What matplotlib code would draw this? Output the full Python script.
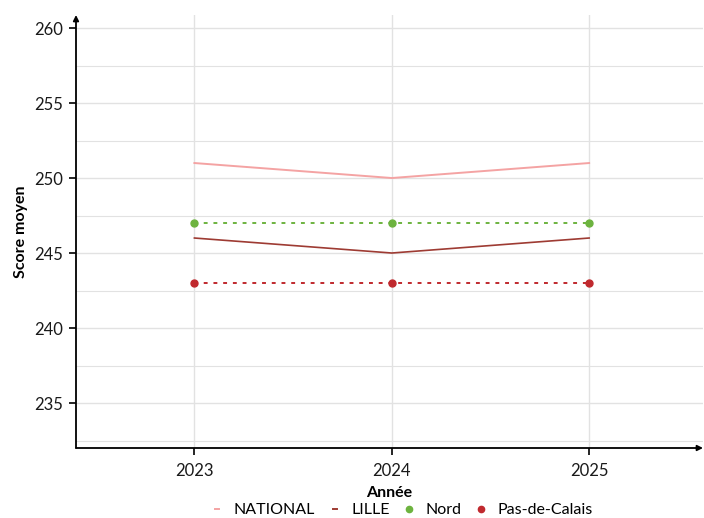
import matplotlib.pyplot as plt
from matplotlib.lines import Line2D

years = [2023, 2024, 2025]
national = [251, 250, 251]
lille = [246, 245, 246]
nord = [247, 247, 247]
pas_de_calais = [243, 243, 243]

plt.rcParams['font.family'] = ['Lato', 'DejaVu Sans']

fig = plt.figure(figsize=(7.04, 5.18), dpi=100)
ax = fig.add_axes([76 / 704, 1 - 448 / 518, (703 - 76) / 704, (448 - 15) / 518])

ax.plot(years, national, color='#F4A3A3', lw=1.4)
ax.plot(years, lille, color='#9E3B33', lw=1.2)
ax.plot(years, nord, color='#6DB33F', lw=1.4, ls=(0, (2, 3)))
ax.plot(years, nord, 'o', color='#6DB33F', ms=5)
ax.plot(years, pas_de_calais, color='#C0292E', lw=1.4, ls=(0, (2, 3)))
ax.plot(years, pas_de_calais, 'o', color='#C0292E', ms=5)

ax.set_xlim(2022.4, 2025.577)
ax.set_ylim(232, 260.87)
ax.set_xticks(years)
ax.set_xticklabels([str(y) for y in years])
ax.set_yticks([235, 240, 245, 250, 255, 260])
ax.set_yticks([232.5, 237.5, 242.5, 247.5, 252.5, 257.5], minor=True)
ax.tick_params(axis='y', which='minor', length=0)
ax.tick_params(which='major', length=5, width=1.2, color='black', labelsize=12,
               labelcolor='#1a1a1a', pad=4)
ax.tick_params(axis='x', pad=6)
ax.grid(True, which='major', color='#E2E2E2', lw=1)
ax.grid(True, which='minor', axis='y', color='#E2E2E2', lw=0.8)
ax.set_axisbelow(True)

for s in ax.spines.values():
    s.set_visible(False)
ax.annotate('', xy=(0, 1), xytext=(0, 0), xycoords='axes fraction',
            arrowprops=dict(arrowstyle='-|>', color='black', lw=1.3, mutation_scale=8,
                            shrinkA=0, shrinkB=0))
ax.annotate('', xy=(1, 0), xytext=(0, 0), xycoords='axes fraction',
            arrowprops=dict(arrowstyle='-|>', color='black', lw=1.3, mutation_scale=8,
                            shrinkA=0, shrinkB=0))

ax.set_xlabel('Année', fontsize=11.5, fontweight='bold', labelpad=5)
ax.set_ylabel('Score moyen', fontsize=11.5, fontweight='bold', labelpad=5)

handles = [
    Line2D([], [], color='#F4A3A3', lw=1.4),
    Line2D([], [], color='#9E3B33', lw=1.4),
    Line2D([], [], color='#6DB33F', marker='o', ls='none', ms=4.5),
    Line2D([], [], color='#C0292E', marker='o', ls='none', ms=4.5),
]
fig.legend(handles, ['NATIONAL', 'LILLE', 'Nord', 'Pas-de-Calais'], loc='center',
           bbox_to_anchor=(404 / 704, 1 - 510 / 518), ncol=4, frameon=False,
           fontsize=11.5, handlelength=0.25, handletextpad=0.9, columnspacing=1.1)

fig.savefig('out.png', dpi=100)
